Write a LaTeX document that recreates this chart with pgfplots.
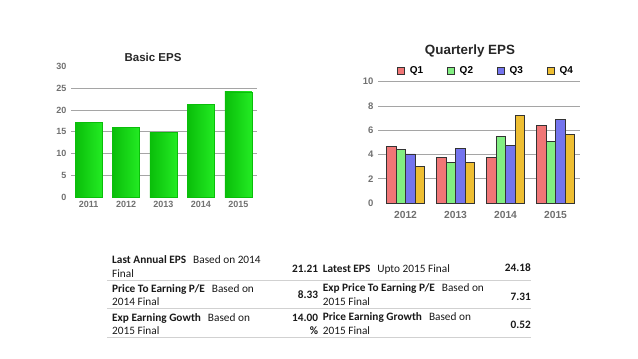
\documentclass[border=0pt]{standalone}
\usepackage{pgfplots}
\pgfplotsset{compat=1.18}
\usepackage{fontspec}
\setmainfont{Liberation Sans}
\newfontfamily\calib{Carlito}
\definecolor{barMid}{RGB}{105,255,105}
\definecolor{barEdge}{RGB}{35,235,35}
\definecolor{barDark}{RGB}{10,190,10}
\definecolor{qa}{RGB}{240,118,118}
\definecolor{qb}{RGB}{130,238,130}
\definecolor{qc}{RGB}{116,116,238}
\definecolor{qd}{RGB}{238,190,50}
\definecolor{tickgray}{RGB}{112,112,112}
\definecolor{gridgray}{RGB}{165,165,165}
\begin{document}
\begin{tikzpicture}
\useasboundingbox (0,0) rectangle (638bp,-359bp);
% ---------- Basic EPS ----------
\node[font=\fontsize{11.5bp}{13bp}\selectfont\bfseries, text=black!85] at (153bp,-57bp) {Basic EPS};
\begin{axis}[
  at={(71bp,-197bp)}, anchor=south west,
  scale only axis, width=186bp, height=130.6bp,
  xmin=-0.47, xmax=4.5, ymin=0, ymax=30,
  xtick={0,...,4}, xticklabels={2011,2012,2013,2014,2015},
  ytick={5,10,...,25}, extra y ticks={0,30}, extra y tick style={grid=none},
  ymajorgrids, grid style={gridgray, line width=0.8bp},
  axis line style={draw=none}, tick style={draw=none},
  /pgf/number format/assume math mode=true,
  ticklabel style={font=\fontsize{9bp}{10bp}\selectfont\bfseries, text=tickgray},
  yticklabel style={xshift=-1bp},
  xticklabel style={yshift=-1bp},
  greenbar/.style={ybar, bar width=0.72, bar shift=0pt, draw=barDark, line width=0.4bp,
    left color=barDark, middle color=barMid, right color=barEdge},
]
\addplot[greenbar] coordinates {(0,17.1)};
\addplot[greenbar] coordinates {(1,16.0)};
\addplot[greenbar] coordinates {(2,14.9)};
\addplot[greenbar] coordinates {(3,21.21)};
\addplot[greenbar] coordinates {(4,24.18)};
\end{axis}
% ---------- Quarterly EPS ----------
\node[font=\fontsize{13.4bp}{15bp}\selectfont\bfseries, text=black!85] at (470bp,-51bp) {Quarterly EPS};
\begin{axis}[
  at={(378bp,-203bp)}, anchor=south west,
  scale only axis, width=202bp, height=121.3bp,
  xmin=-0.55, xmax=3.49, ymin=0, ymax=10,
  xtick={0,...,3}, xticklabels={2012,2013,2014,2015},
  ytick={2,4,...,10}, extra y ticks={0}, extra y tick style={grid=none},
  ymajorgrids, grid style={gridgray, line width=0.8bp},
  axis line style={draw=none}, tick style={draw=none},
  /pgf/number format/assume math mode=true,
  ticklabel style={font=\fontsize{9.5bp}{10bp}\selectfont\bfseries, text=tickgray},
  xticklabel style={font=\fontsize{10.3bp}{11bp}\selectfont\bfseries, yshift=-1bp},
  yticklabel style={xshift=-1bp},
  ybar=0pt, bar width=0.19,
  legend columns=4,
  legend style={draw=none, fill=none, at={(0.535,1.09)}, anchor=center,
    font=\fontsize{10bp}{11bp}\selectfont\bfseries,
    /tikz/every odd column/.append style={column sep=3bp},
    /tikz/every even column/.append style={column sep=22bp}},
  legend image code/.code={\draw[#1, line width=0.6bp] (0bp,-3.5bp) rectangle (7bp,3.5bp);},
]
\addplot[fill=qa, draw=black!80, line width=0.6bp] coordinates {(0,4.66) (1,3.75) (2,3.75) (3,6.41)};
\addplot[fill=qb, draw=black!80, line width=0.6bp] coordinates {(0,4.44) (1,3.32) (2,5.5) (3,5.07)};
\addplot[fill=qc, draw=black!80, line width=0.6bp] coordinates {(0,4.05) (1,4.49) (2,4.74) (3,6.9)};
\addplot[fill=qd, draw=black!80, line width=0.6bp] coordinates {(0,2.99) (1,3.32) (2,7.23) (3,5.67)};
\legend{Q1,Q2,Q3,Q4}
\end{axis}
% ---------- Table ----------
\draw[black!18, line width=0.8bp] (107bp,-280bp) -- (531bp,-280bp);
\draw[black!18, line width=0.8bp] (107bp,-308bp) -- (531bp,-308bp);
\draw[black!18, line width=0.8bp] (107bp,-337bp) -- (531bp,-337bp);
\begin{scope}[every node/.style={inner sep=0pt, font=\calib\fontsize{11.3bp}{13bp}\selectfont, text=black!90}]
\node[anchor=base west] at (112bp,-263.3bp) {\textbf{Last Annual EPS}\hspace{7bp}Based on 2014};
\node[anchor=base west] at (112bp,-277.3bp) {Final};
\node[anchor=base west] at (112bp,-292.3bp) {\textbf{Price To Earning P/E}\hspace{7bp}Based on};
\node[anchor=base west] at (112bp,-305.7bp) {2014 Final};
\node[anchor=base west] at (112bp,-321bp) {\textbf{Exp Earning Gowth}\hspace{7bp}Based on};
\node[anchor=base west] at (112bp,-334bp) {2015 Final};
\node[anchor=base east] at (318.3bp,-272bp) {\textbf{21.21}};
\node[anchor=base east] at (318.3bp,-298.5bp) {\textbf{8.33}};
\node[anchor=base east] at (318.3bp,-321bp) {\textbf{14.00}};
\node[anchor=base east] at (318.3bp,-334.5bp) {\textbf{\%}};
\node[anchor=base west] at (322.7bp,-272bp) {\textbf{Latest EPS}\hspace{7bp}Upto 2015 Final};
\node[anchor=base west] at (322.7bp,-291bp) {\textbf{Exp Price To Earning P/E}\hspace{7bp}Based on};
\node[anchor=base west] at (322.7bp,-305.7bp) {2015 Final};
\node[anchor=base west] at (322.7bp,-320.7bp) {\textbf{Price Earning Growth}\hspace{7bp}Based on};
\node[anchor=base west] at (322.7bp,-334bp) {2015 Final};
\node[anchor=base east] at (531bp,-271.7bp) {\textbf{24.18}};
\node[anchor=base east] at (531bp,-300bp) {\textbf{7.31}};
\node[anchor=base east] at (531bp,-328bp) {\textbf{0.52}};
\end{scope}
\end{tikzpicture}
\end{document}
